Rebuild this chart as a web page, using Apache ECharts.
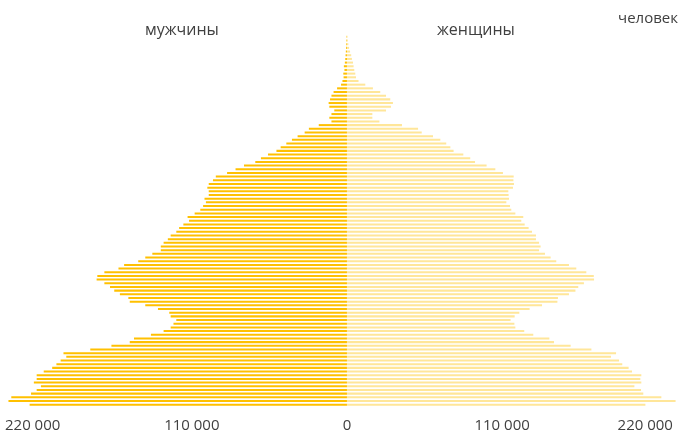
<!DOCTYPE html>
<html>
<head>
<meta charset="utf-8">
<script src="https://cdn.jsdelivr.net/npm/echarts@6/dist/echarts.min.js"></script>
<style>
html,body{margin:0;padding:0;background:#fff;}
#c{width:678px;height:435px;}
</style>
</head>
<body>
<div id="c"></div>
<script>
// ages 0..100 (bottom to top)
const ages = Array.from({length: 101}, (_, i) => String(i));
// men, persons, age 0 .. 100
const men = [
225000,240000,238000,224000,220000,217000,222000,220000,220000,215000,
209000,206000,203000,199000,201000,182000,167000,154000,151000,139000,
130000,125000,123000,121000,125000,126000,134000,143000,154000,155000,
161000,165000,168000,172000,177500,177000,172000,162000,158000,148000,
143000,138000,132000,132000,130000,127000,125000,121000,119000,116000,
112000,113000,108000,104000,102000,100000,101000,98000,98000,99000,
98000,95000,93000,85000,79000,73000,65000,61000,56000,50000,
47000,43000,39000,35000,30000,27000,20000,11000,12500,11000,
9000,12500,13000,12000,11000,9500,7000,4200,3200,2400,
2600,1800,2200,1500,1200,1000,800,600,500,400,300
];
// women, persons, age 0 .. 100
const women = [
211600,233000,222900,210100,208500,203800,208700,208000,208700,202100,
199700,195200,192900,187200,190800,173300,158600,146800,143500,132100,
125700,119400,118700,116000,118900,122200,129500,138300,149200,149600,
157400,162000,164000,168000,175200,175000,169700,162600,157400,148400,
144400,140400,136200,137300,136200,134000,134000,131200,128800,126000,
123600,125000,119400,116500,115600,113000,114900,114600,114400,117700,
118400,118000,118200,110600,105200,99000,90800,87400,82500,75600,
73300,70400,66200,61000,53000,50400,39000,23000,18000,18000,
27700,31200,32600,30700,27700,23600,18400,13000,8200,6400,
5900,5200,4700,4300,3500,3000,2200,1500,1000,600,400
];
const tickValues = [-220000, -110000, 0, 110000, 220000];
const titles = ['мужчины', 'женщины', 'человек'];

const fmt = v => String(Math.abs(v)).replace(/\B(?=(\d{3})+(?!\d))/g, ' ');
const lbl = {fontFamily: 'Open Sans', fontSize: 15, color: '#404040'};

const chart = echarts.init(document.getElementById('c'), null, {renderer: 'canvas'});
chart.setOption({
  animation: false,
  backgroundColor: '#ffffff',
  title: [
    {text: titles[0], left: 182, top: 22, textAlign: 'center', padding: 0,
     textStyle: {fontFamily: 'Open Sans', fontSize: 16, fontWeight: 'normal', color: '#404040'}},
    {text: titles[1], left: 476, top: 22, textAlign: 'center', padding: 0,
     textStyle: {fontFamily: 'Open Sans', fontSize: 16, fontWeight: 'normal', color: '#404040'}},
    {text: titles[2], right: 0, top: 11, padding: 0,
     textStyle: {fontFamily: 'Open Sans', fontSize: 15, fontWeight: 'normal', color: '#404040'}}
  ],
  grid: {left: 0, right: 1, top: 35, bottom: 28.5, containLabel: false},
  xAxis: {
    type: 'value', min: -246000, max: 234000,
    splitLine: {show: false}, axisLine: {show: false}, axisTick: {show: false},
    axisLabel: {
      customValues: tickValues, margin: 12,
      formatter: v => v === 220000 ? '{r|' + fmt(v) + '}' : (v === -220000 ? '{l|' + fmt(v) + '}' : '{n|' + fmt(v) + '}'),
      rich: {
        n: Object.assign({}, lbl),
        r: Object.assign({padding: [0, 24, 0, 0]}, lbl),
        l: Object.assign({padding: [0, 8, 0, 0]}, lbl)
      }
    }
  },
  yAxis: {
    type: 'category', data: ages, show: false
  },
  series: [
    {name: 'мужчины', type: 'bar', data: men.map(v => -v), barWidth: '55%', barGap: '-100%',
     itemStyle: {color: '#FFC000'}},
    {name: 'женщины', type: 'bar', data: women, barWidth: '55%', barGap: '-100%',
     itemStyle: {color: '#FFE699'}}
  ]
});
</script>
</body>
</html>
